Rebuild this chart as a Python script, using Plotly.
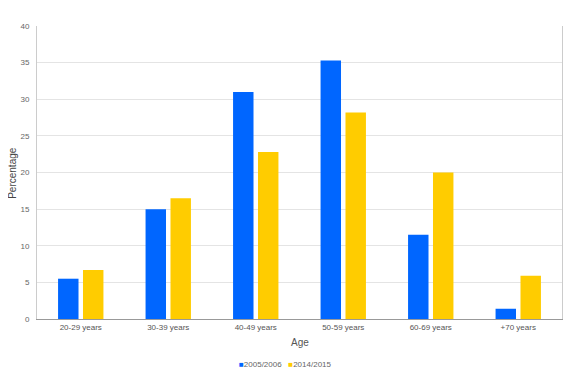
import plotly.graph_objects as go

categories = ["20-29 years", "30-39 years", "40-49 years", "50-59 years", "60-69 years", "+70 years"]
series_2005 = [5.5, 15.0, 31.0, 35.3, 11.5, 1.4]
series_2014 = [6.7, 16.5, 22.8, 28.2, 20.0, 5.9]
series_names = ["2005/2006", "2014/2015"]
series_colors = ["#0066FF", "#FFCC00"]
y_ticks = [0, 5, 10, 15, 20, 25, 30, 35, 40]

fig = go.Figure()
for name, vals, col in zip(series_names, [series_2005, series_2014], series_colors):
    fig.add_trace(go.Bar(x=categories, y=vals, name=name, marker_color=col, marker_line_width=0))

legend_text = "&nbsp;&nbsp;&nbsp;".join(
    f"<span style='color:{c}'>■</span>{n}" for n, c in zip(series_names, series_colors)
)

font = "Liberation Sans, Arial, sans-serif"
# page body has an 8px default margin, so the figure is sized/offset to compensate
fig.update_layout(
    width=572, height=374,
    margin=dict(l=29, r=18, t=18, b=63, autoexpand=False),
    paper_bgcolor="white", plot_bgcolor="white",
    barmode="group", bargap=0.43, bargroupgap=0.18,
    font=dict(family=font, size=9, color="#444444"),
    showlegend=False,
    xaxis=dict(showgrid=False, showline=True, linecolor="#999999", linewidth=1,
               ticks="", tickfont=dict(size=8, color="#555555")),
    yaxis=dict(range=[0, 40], tickvals=y_ticks, showgrid=True, gridcolor="#E4E4E4",
               showline=True, linecolor="#CCCCCC", mirror=True, zeroline=False,
               ticks="", tickfont=dict(size=8, color="#666666"), ticklabelstandoff=5),
    annotations=[
        dict(text="Age", xref="paper", yref="paper", x=0.5, y=-0.08, xanchor="center", yanchor="middle",
             showarrow=False, font=dict(size=10, color="#555555")),
        dict(text="Percentage", xref="paper", yref="paper", x=-0.047, y=0.5, xanchor="center", yanchor="middle",
             textangle=-90, showarrow=False, font=dict(size=10, color="#444444")),
        dict(text=legend_text, xref="paper", yref="paper", x=0.474, y=-0.155, xanchor="center", yanchor="middle",
             showarrow=False, font=dict(size=8, color="#666666")),
    ],
)
fig.write_html("out.html")
